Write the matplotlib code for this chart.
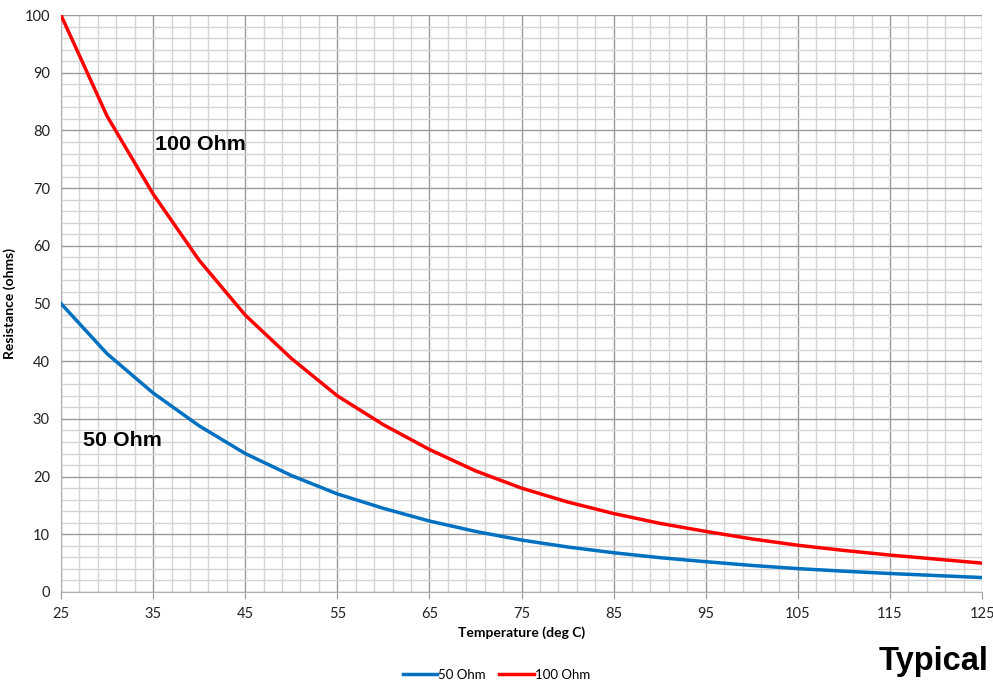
import numpy as np
import matplotlib.pyplot as plt
from matplotlib.ticker import MultipleLocator

temps = [25, 30, 35, 40, 45, 50, 55, 60, 65, 70, 75, 80, 85, 90, 95, 100, 105, 110, 115, 120, 125]
r100 = [100, 82.5, 69, 57.5, 48, 40.5, 34, 29, 24.7, 21, 18, 15.6, 13.6, 11.9, 10.5, 9.2, 8.1, 7.2, 6.4, 5.7, 5.0]
r50 = [50, 41.3, 34.5, 28.8, 24, 20.2, 17, 14.5, 12.3, 10.5, 9, 7.8, 6.8, 5.95, 5.25, 4.6, 4.05, 3.6, 3.2, 2.85, 2.5]

fig = plt.figure(figsize=(9.93, 6.85), dpi=100)
ax = fig.add_axes([0.0614, 0.1358, 0.9276, 0.8422])

ax.plot(temps, r50, color='#0070C0', lw=2.5, label='50 Ohm', zorder=3)
ax.plot(temps, r100, color='#FF0000', lw=2.5, label='100 Ohm', zorder=3)

ax.set_xlim(25, 125)
ax.set_ylim(0, 100)
ax.set_xticks(np.arange(25, 126, 10))
ax.set_xticks(np.arange(25, 126, 2), minor=True)
ax.yaxis.set_major_locator(MultipleLocator(10))
ax.yaxis.set_minor_locator(MultipleLocator(2))
ax.grid(which='minor', color='#d4d4d4', lw=1.0)
ax.grid(which='major', color='#9a9a9a', lw=1.0)
ax.set_axisbelow(True)

for s in ['top', 'right']:
    ax.spines[s].set_visible(False)
for s in ['left', 'bottom']:
    ax.spines[s].set_color('#b0b0b0')
ax.tick_params(which='minor', length=0)
ax.tick_params(axis='y', which='major', length=0, pad=8)
ax.tick_params(axis='x', which='major', length=5, color='#9a9a9a', pad=6)
for lab in ax.get_xticklabels() + ax.get_yticklabels():
    lab.set_family('Lato')
    lab.set_fontsize(10.5)
    lab.set_color('#222222')

ax.set_xlabel('Temperature (deg C)', family='Lato', fontweight='bold', fontsize=10)
ax.set_ylabel('Resistance (ohms)', family='Lato', fontweight='bold', fontsize=10)
ax.xaxis.set_label_coords(0.5, -0.06)
ax.yaxis.set_label_coords(-0.049, 0.5)

ax.text(35.2, 77.5, '100 Ohm', family='Liberation Sans', fontweight='bold', fontsize=15.4, va='center')
ax.text(27.4, 26.3, '50 Ohm', family='Liberation Sans', fontweight='bold', fontsize=15.4, va='center')

leg = fig.legend(loc='center', bbox_to_anchor=(0.5, 0.015), ncol=2, frameon=False,
                 prop={'family': 'Lato', 'size': 9.5}, handlelength=2.6, handletextpad=0.1,
                 columnspacing=1.0)

fig.text(0.995, 0.034, 'Typical', family='Liberation Sans', fontweight='bold', fontsize=23.5,
         ha='right', va='center')

fig.savefig('out.png', dpi=100)
